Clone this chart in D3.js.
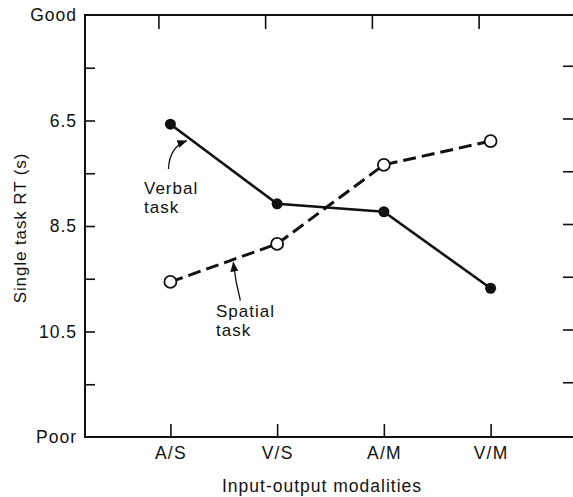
<!DOCTYPE html>
<html>
<head>
<meta charset="utf-8">
<script src="https://cdn.jsdelivr.net/npm/d3@7"></script>
<style>
  body { margin: 0; background: #fff; }
  text { font-family: 'Liberation Sans', Arial, sans-serif; fill: #111; }
</style>
</head>
<body>
<div id="chart"></div>
<script>
// modalities on the x axis
const categories = ['A/S', 'V/S', 'A/M', 'V/M']
// single task RT in seconds (lower = better)
const verbal = [6.57, 8.08, 8.23, 9.68]
const spatial = [9.56, 8.84, 7.34, 6.89]
// y ticks, every second one labelled
const yTicks = [4.5, 5.5, 6.5, 7.5, 8.5, 9.5, 10.5, 11.5, 12.5]
const yTickLabels = ['Good', '', '6.5', '', '8.5', '', '10.5', '', 'Poor']

const width = 573
const height = 497
const margin = { top: 15, right: -3, bottom: 60, left: 85 }

const svg = d3.select('#chart').append('svg')
  .attr('width', width)
  .attr('height', height)

const x = d3.scalePoint()
  .domain(categories)
  .range([margin.left, width - margin.right])
  .padding(0.8)

const y = d3.scaleLinear()
  .domain([4.5, 12.5])
  .range([margin.top, height - margin.bottom])

const ink = '#111'

// frame
svg.append('path')
  .attr('d', `M${width - margin.right},${y(4.5)}H${margin.left}V${y(12.5)}H${width - margin.right}V${y(4.5)}`)
  .attr('fill', 'none')
  .attr('stroke', ink)
  .attr('stroke-width', 2)

// left axis, ticks pointing inward
const yLeft = svg.append('g')
  .attr('transform', `translate(${margin.left},0)`)
  .call(d3.axisLeft(y).tickValues(yTicks).tickSize(-10).tickPadding(8)
    .tickFormat((d, i) => yTickLabels[i]))
yLeft.select('.domain').remove()
yLeft.selectAll('line').attr('stroke', ink).attr('stroke-width', 1.6)
yLeft.selectAll('text')
  .attr('font-size', 17.5)
  .attr('letter-spacing', 1)
  .attr('fill', ink)
yLeft.selectAll('.tick').filter((d, i) => i === 0 || i === yTicks.length - 1)
  .select('line').remove()

// right axis, ticks only
const yRight = svg.append('g')
  .attr('transform', `translate(${width - margin.right},-2)`)
  .call(d3.axisRight(y).tickValues(yTicks.slice(1, -1)).tickSize(-13).tickFormat(''))
yRight.select('.domain').remove()
yRight.selectAll('line').attr('stroke', ink).attr('stroke-width', 1.6)

// bottom axis
const xBottom = svg.append('g')
  .attr('transform', `translate(0,${y(12.5)})`)
  .call(d3.axisBottom(x).tickSize(-13).tickPadding(10))
xBottom.select('.domain').remove()
xBottom.selectAll('line').attr('stroke', ink).attr('stroke-width', 1.6)
xBottom.selectAll('text')
  .attr('font-size', 17.5)
  .attr('letter-spacing', 1.2)
  .attr('fill', ink)

// top axis, ticks only (slightly offset in the original print)
const xTop = svg.append('g')
  .attr('transform', `translate(-12,${y(4.5)})`)
  .call(d3.axisTop(x).tickSize(-14).tickFormat(''))
xTop.select('.domain').remove()
xTop.selectAll('line').attr('stroke', ink).attr('stroke-width', 1.6)

// axis titles
svg.append('text')
  .attr('x', 322)
  .attr('y', 492)
  .attr('text-anchor', 'middle')
  .attr('font-size', 17.5)
  .attr('letter-spacing', 1)
  .text('Input-output modalities')

svg.append('text')
  .attr('transform', 'translate(26,228) rotate(-90)')
  .attr('text-anchor', 'middle')
  .attr('font-size', 17)
  .attr('letter-spacing', 0.9)
  .text('Single task RT (s)')

const line = d3.line()
  .x((d, i) => x(categories[i]))
  .y(d => y(d))

svg.append('path')
  .datum(spatial)
  .attr('d', line)
  .attr('fill', 'none')
  .attr('stroke', ink)
  .attr('stroke-width', 3)
  .attr('stroke-dasharray', '13,6')

svg.append('path')
  .datum(verbal)
  .attr('d', line)
  .attr('fill', 'none')
  .attr('stroke', ink)
  .attr('stroke-width', 2.6)

svg.selectAll('.verbal-dot')
  .data(verbal)
  .enter()
  .append('circle')
  .attr('class', 'verbal-dot')
  .attr('cx', (d, i) => x(categories[i]))
  .attr('cy', d => y(d))
  .attr('r', 5.5)
  .attr('fill', ink)

svg.selectAll('.spatial-dot')
  .data(spatial)
  .enter()
  .append('circle')
  .attr('class', 'spatial-dot')
  .attr('cx', (d, i) => x(categories[i]))
  .attr('cy', d => y(d))
  .attr('r', 6)
  .attr('fill', '#fff')
  .attr('stroke', ink)
  .attr('stroke-width', 1.8)

// arrow annotations
svg.append('defs').append('marker')
  .attr('id', 'head')
  .attr('viewBox', '0 0 10 10')
  .attr('refX', 9)
  .attr('refY', 5)
  .attr('markerWidth', 10)
  .attr('markerHeight', 10)
  .attr('markerUnits', 'userSpaceOnUse')
  .attr('orient', 'auto')
  .append('path')
  .attr('d', 'M0,1L10,5L0,9Z')
  .attr('fill', ink)

function along (series, i, t) {
  const x0 = x(categories[i]); const x1 = x(categories[i + 1])
  const y0 = y(series[i]); const y1 = y(series[i + 1])
  return [x0 + (x1 - x0) * t, y0 + (y1 - y0) * t]
}

const vTip = along(verbal, 0, 0.16)
svg.append('path')
  .attr('d', `M${vTip[0] - 19},${vTip[1] + 32}Q${vTip[0] - 18},${vTip[1] + 10} ${vTip[0] - 1},${vTip[1] + 4}`)
  .attr('fill', 'none')
  .attr('stroke', ink)
  .attr('stroke-width', 1.3)
  .attr('marker-end', 'url(#head)')

const sTip = along(spatial, 0, 0.59)
svg.append('path')
  .attr('d', `M${sTip[0] + 7},${sTip[1] + 41}Q${sTip[0] + 2},${sTip[1] + 22} ${sTip[0]},${sTip[1] + 3}`)
  .attr('fill', 'none')
  .attr('stroke', ink)
  .attr('stroke-width', 1.3)
  .attr('marker-end', 'url(#head)')

const notes = [
  { lines: ['Verbal', 'task'], x: 144, y: 194 },
  { lines: ['Spatial', 'task'], x: 216, y: 317 }
]
notes.forEach(n => {
  svg.append('text')
    .attr('x', n.x)
    .attr('y', n.y)
    .attr('font-size', 17)
    .attr('letter-spacing', 1)
    .selectAll('tspan')
    .data(n.lines)
    .enter()
    .append('tspan')
    .attr('x', n.x)
    .attr('dy', (d, i) => i === 0 ? 0 : 19)
    .text(d => d)
})
</script>
</body>
</html>
